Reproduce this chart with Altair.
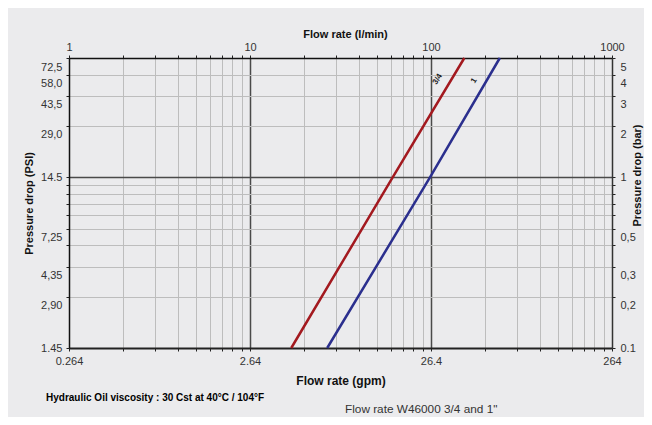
import altair as alt
import pandas as pd

# ---- data (flow in l/min, pressure drop in bar) ----
series_names = ["3/4", "1"]
flow_lmin_34 = [16.9, 61.4, 152.8]
dp_bar_34 = [0.1, 1.0, 5.0]
flow_lmin_1 = [26.7, 98.7, 240.0]
dp_bar_1 = [0.1, 1.0, 5.0]
series_colors = ["#a3191f", "#2b2f8e"]

# line labels (placed in data space)
line_label_text = ["3/4", "1"]
line_label_flow = [109.0, 173.0]
line_label_dp = [3.75, 3.67]

# axis ticks / labels
x_major = [1, 10, 100, 1000]
x_top_labels = ["1", "10", "100", "1000"]
x_bottom_labels = ["0.264", "2.64", "26.4", "264"]
x_ticks = [1, 2, 3, 4, 5, 6, 7, 8, 9,
           10, 20, 30, 40, 50, 60, 70, 80, 90,
           100, 200, 300, 400, 500, 600, 700, 800, 900, 1000]
x_dark = [10, 100]

y_ticks = [0.1, 0.2, 0.3, 0.4, 0.5, 0.6, 0.7, 0.8, 0.9, 1, 2, 3, 4, 5]
y_major = [0.1, 0.2, 0.3, 0.5, 1, 2, 3, 4, 5]
y_bar_labels = ["0.1", "0,2", "0,3", "0,5", "1", "2", "3", "4", "5"]
y_psi_labels = ["1.45", "2,90", "4,35", "7,25", "14.5", "29,0", "43,5", "58,0", "72,5"]
y_unshifted = [0.1, 1]
y_dark = [1]

note_text = ["Hydraulic Oil viscosity : 30 Cst at 40°C / 104°F"]
caption_text = ['Flow rate W46000 3/4 and 1"']

# ---- tables ----
rows = []
for f, p in zip(flow_lmin_34, dp_bar_34):
    rows.append({"flow": f, "dp": p, "size": series_names[0]})
for f, p in zip(flow_lmin_1, dp_bar_1):
    rows.append({"flow": f, "dp": p, "size": series_names[1]})
df = pd.DataFrame(rows)
lab_df = pd.DataFrame({"t": line_label_text, "flow": line_label_flow, "dp": line_label_dp})


def label_expr(vals, labels):
    expr = "''"
    for v, l in zip(vals, labels):
        expr = f"datum.value == {v} ? '{l}' : ({expr})"
    return expr


def in_test(vals):
    return " || ".join(f"datum.value == {v}" for v in vals)


FONT = "Liberation Sans"
xscale = alt.Scale(type="log", domain=[1, 1000], nice=False)
yscale = alt.Scale(type="log", domain=[0.1, 5], nice=False)
color = alt.Color("size:N", scale=alt.Scale(domain=series_names, range=series_colors), legend=None)

grid_x_color = {"condition": {"test": in_test(x_dark), "value": "#4a4a4a"}, "value": "#bdbdbd"}
grid_x_width = {"condition": {"test": in_test(x_dark), "value": 1.5}, "value": 1}
grid_y_color = {"condition": {"test": in_test(y_dark), "value": "#4a4a4a"}, "value": "#bdbdbd"}
grid_y_width = {"condition": {"test": in_test(y_dark), "value": 1.5}, "value": 1}
y_label_offset = {"condition": {"test": in_test(y_unshifted), "value": 0}, "value": 9}

common = dict(labelFont=FONT, labelFontSize=11, labelColor="#333333", titleFont=FONT,
              titleFontWeight="bold", titleColor="#111111", tickSize=3, tickColor="#222222",
              labelOverlap=False, labelFlush=False)

axis_bottom = alt.Axis(orient="bottom", values=x_ticks, labelExpr=label_expr(x_major, x_bottom_labels),
                       title="Flow rate (gpm)", titleFontSize=12, titlePadding=9, labelPadding=4,
                       grid=True, gridColor=grid_x_color, gridWidth=grid_x_width,
                       domainColor="#222222", domainWidth=2, **common)
axis_left = alt.Axis(orient="left", values=y_ticks, labelExpr=label_expr(y_major, y_psi_labels),
                     title="Pressure drop (PSI)", titleFontSize=11, titlePadding=6, labelPadding=4,
                     labelOffset=y_label_offset,
                     grid=True, gridColor=grid_y_color, gridWidth=grid_y_width,
                     domainColor="#111111", domainWidth=1.5, **common)
axis_top = alt.Axis(orient="top", values=x_ticks, labelExpr=label_expr(x_major, x_top_labels),
                    title="Flow rate (l/min)", titleFontSize=11, titlePadding=2, labelPadding=3,
                    titleX=276, titleAlign="center",
                    grid=False, domainColor="#111111", domainWidth=1.5, **common)
axis_right = alt.Axis(orient="right", values=y_ticks, labelExpr=label_expr(y_major, y_bar_labels),
                      title="Pressure drop (bar)", titleFontSize=11, labelPadding=5,
                      titleAngle=270, titleX=25, titleY=117, titleBaseline="middle",
                      titleAlign="center", labelOffset=y_label_offset,
                      grid=False, domainColor="#333333", domainWidth=1.5, **common)

lines = alt.Chart(df).mark_line(strokeWidth=2.5).encode(
    x=alt.X("flow:Q", scale=xscale, axis=axis_bottom),
    y=alt.Y("dp:Q", scale=yscale, axis=axis_left),
    color=color,
    detail="size:N",
)
ghost = alt.Chart(df).mark_line(opacity=0).encode(
    x=alt.X("flow:Q", scale=xscale, axis=axis_top),
    y=alt.Y("dp:Q", scale=yscale, axis=axis_right),
    detail="size:N",
)
labels = alt.Chart(lab_df).mark_text(angle=301, fontSize=8, fontWeight="bold", font=FONT,
                                     color="#222222").encode(
    x=alt.X("flow:Q", scale=xscale, axis=None),
    y=alt.Y("dp:Q", scale=yscale, axis=None),
    text="t:N",
)
note = alt.Chart(pd.DataFrame({"t": note_text})).mark_text(
    align="left", baseline="middle", fontSize=10, fontWeight="bold",
    font="Liberation Sans Narrow, Arial Narrow, Liberation Sans", color="#000000"
).encode(x=alt.value(-23), y=alt.value(340), text="t:N")
caption = alt.Chart(pd.DataFrame({"t": caption_text})).mark_text(
    align="left", baseline="middle", fontSize=11.8, font=FONT, color="#333333"
).encode(x=alt.value(276), y=alt.value(351), text="t:N")

chart = alt.layer(lines, ghost, labels, note, caption).resolve_scale(
    x="independent", y="independent"
).properties(
    width=543, height=290,
    autosize=alt.AutoSizeParams(type="none"),
    padding={"left": 61, "top": 50, "right": 32, "bottom": 69},
    background="#ebebed",
).configure_view(stroke=None)

chart.save("out.html", embed_options={"renderer": "svg", "actions": False})
